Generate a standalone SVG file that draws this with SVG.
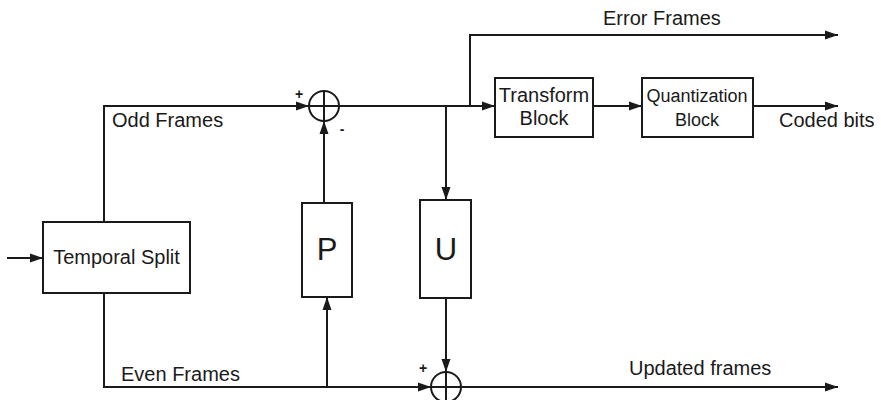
<svg xmlns="http://www.w3.org/2000/svg" width="881" height="400" viewBox="0 0 881 400">
<defs>
<marker id="arr" markerUnits="userSpaceOnUse" markerWidth="13" markerHeight="10" refX="13" refY="5" orient="auto">
<path d="M0,0.5 L13,5 L0,9.5 z" fill="#1a1a1a"/>
</marker>
</defs>
<style>
.box{fill:#fff;stroke:#1a1a1a;stroke-width:2}
.ln{fill:none;stroke:#1a1a1a;stroke-width:2}
.t{font-family:"Liberation Sans",Arial,sans-serif;font-size:20px;fill:#1a1a1a}
.s{font-family:"Liberation Sans",Arial,sans-serif;font-size:14px;font-weight:bold;fill:#1a1a1a}
</style>
<rect width="881" height="400" fill="#fff"/>
<g id="connectors">
<path class="ln" d="M7,258 H43" marker-end="url(#arr)"/>
<path class="ln" d="M104,222 V106 H309" marker-end="url(#arr)"/>
<path class="ln" d="M104,293 V387 H431" marker-end="url(#arr)"/>
<path class="ln" d="M339,106 H495" marker-end="url(#arr)"/>
<path class="ln" d="M470,106 V35 H838" marker-end="url(#arr)"/>
<path class="ln" d="M593,106 H642" marker-end="url(#arr)"/>
<path class="ln" d="M753,106 H838" marker-end="url(#arr)"/>
<path class="ln" d="M446,106 V200" marker-end="url(#arr)"/>
<path class="ln" d="M324,203 V121" marker-end="url(#arr)"/>
<path class="ln" d="M327,387 V297" marker-end="url(#arr)"/>
<path class="ln" d="M446,298 V372" marker-end="url(#arr)"/>
<path class="ln" d="M461,387 H838" marker-end="url(#arr)"/>
</g>
<g id="split">
<rect class="box" x="43" y="222" width="147" height="71"/>
<text class="t" x="116.5" y="264" text-anchor="middle">Temporal Split</text>
</g>
<g id="sum-top">
<circle class="ln" cx="324" cy="106" r="15"/>
<path class="ln" d="M309,106 H339 M324,91 V121"/>
<text class="s" x="299" y="99" text-anchor="middle">+</text>
<text class="s" x="342" y="134" text-anchor="middle">-</text>
</g>
<g id="sum-bottom">
<circle class="ln" cx="446" cy="387" r="15"/>
<path class="ln" d="M431,387 H461 M446,372 V402"/>
<text class="s" x="423" y="373" text-anchor="middle">+</text>
</g>
<g id="P">
<rect class="box" x="302" y="203" width="50" height="94"/>
<text class="t" x="327" y="260" text-anchor="middle" style="font-size:31px">P</text>
</g>
<g id="U">
<rect class="box" x="420" y="200" width="51" height="98"/>
<text class="t" x="446" y="260" text-anchor="middle" style="font-size:31px">U</text>
</g>
<g id="transform">
<rect class="box" x="495" y="78" width="98" height="59"/>
<text class="t" x="544" y="102" text-anchor="middle">Transform</text>
<text class="t" x="544" y="125" text-anchor="middle">Block</text>
</g>
<g id="quant">
<rect class="box" x="642" y="78" width="111" height="59"/>
<text class="t" x="697" y="102" text-anchor="middle" style="font-size:18px">Quantization</text>
<text class="t" x="697" y="126" text-anchor="middle" style="font-size:18px">Block</text>
</g>
<g id="labels">
<text class="t" x="112" y="127">Odd Frames</text>
<text class="t" x="121" y="381">Even Frames</text>
<text class="t" x="603" y="25">Error Frames</text>
<text class="t" x="779" y="127">Coded bits</text>
<text class="t" x="629" y="375">Updated frames</text>
</g>
</svg>
